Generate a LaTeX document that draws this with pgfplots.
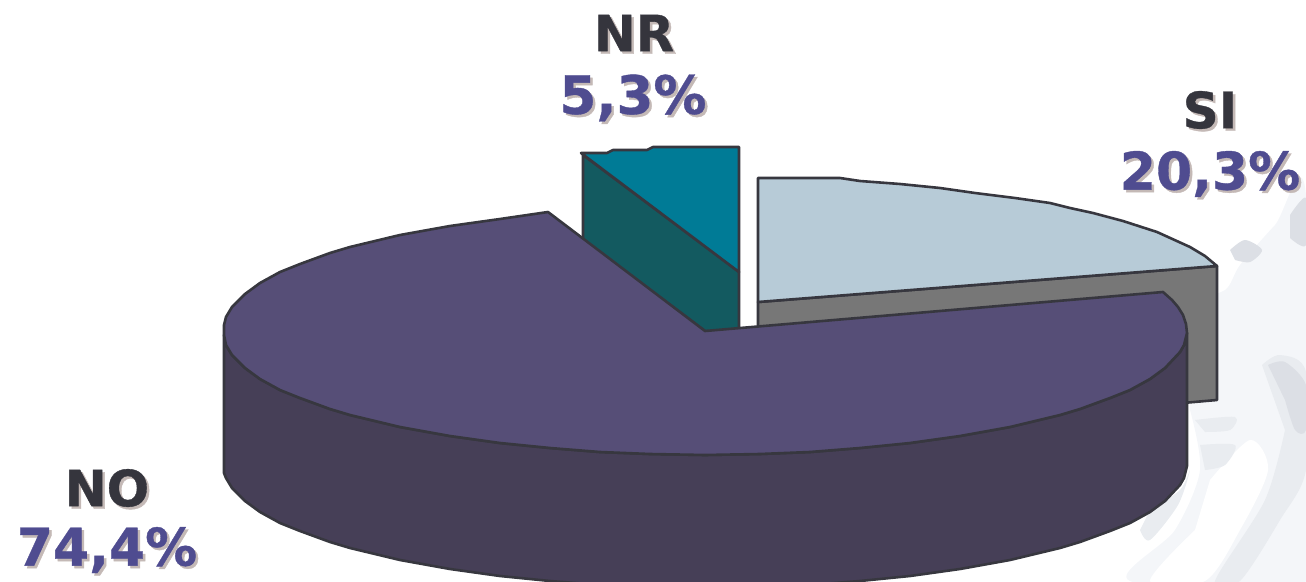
\documentclass[border=0pt]{standalone}
\usepackage{pgfplots}
\pgfplotsset{compat=1.18}
\usepackage{fontspec}
\setmainfont[BoldFeatures={FakeBold=0.7}]{DejaVu Sans}
\definecolor{notop}{HTML}{564E77}
\definecolor{noside}{HTML}{463F57}
\definecolor{sitop}{HTML}{B7CBD7}
\definecolor{siside}{HTML}{777777}
\definecolor{nrtop}{HTML}{007B96}
\definecolor{nrside}{HTML}{135A60}
\definecolor{edge}{HTML}{37373F}
\definecolor{lab}{HTML}{35353D}
\definecolor{pct}{HTML}{4F4C90}
\definecolor{shad}{HTML}{C4B9B6}
\definecolor{wm}{HTML}{F4F6F9}
\definecolor{wmm}{HTML}{E9ECF0}
\definecolor{wmd}{HTML}{DCDFE5}
\newcommand{\lbl}[5]{%
 \node[inner sep=0pt,text=shad,font=\fontsize{#5}{#5}\selectfont\bfseries] at (axis cs:#1+2.5,#2+2.5) {#3};
 \node[inner sep=0pt,text=#4,font=\fontsize{#5}{#5}\selectfont\bfseries] at (axis cs:#1,#2) {#3};}
\begin{document}
\begin{tikzpicture}
\useasboundingbox (0,0) rectangle (1306pt,581pt);
\begin{axis}[anchor=south west,at={(0,0)},width=1306pt,height=581pt,scale only axis,xmin=0,xmax=1306,ymin=0,ymax=581,y dir=reverse,axis lines=none,clip=true]
% faint background picture
\addplot[fill=wm,draw=none,smooth] coordinates {(1190,300)(1225,290)(1240,265)(1275,225)(1306,195)(1306,581)(1130,581)(1175,530)(1200,470)(1190,410)} --cycle;
\addplot[fill=white,draw=none,smooth] coordinates {(1210,480)(1250,440)(1268,470)(1240,530)(1205,581)(1150,581)(1195,530)} --cycle;
\addplot[fill=wmd,draw=none,smooth] coordinates {(1230,250)(1245,240)(1262,250)(1250,262)(1235,260)} --cycle;
\addplot[fill=wmd,draw=none,smooth] coordinates {(1290,215)(1306,198)(1306,245)(1290,238)} --cycle;
\addplot[fill=wmm,draw=none,smooth] coordinates {(1262,365)(1280,355)(1306,372)(1306,470)(1280,520)(1240,581)(1215,581)(1265,500)(1285,430)} --cycle;
\addplot[fill=wmd,draw=none,smooth] coordinates {(1268,365)(1285,362)(1306,385)(1306,430)(1295,430)(1285,400)} --cycle;
\addplot[fill=wmm,draw=none,smooth] coordinates {(1150,510)(1180,490)(1190,470)(1178,505)(1150,540)(1140,530)} --cycle;
\addplot[fill=wmm,draw=none,smooth] coordinates {(1195,420)(1235,417)(1230,430)(1205,432)} --cycle;
\addplot[fill=wmm,draw=none,smooth] coordinates {(1200,445)(1235,445)(1225,465)(1205,470)} --cycle;
% SI
\addplot[fill=siside,draw=edge,line width=2.6pt,line join=round] coordinates {(758,302)(1217,266)(1217,400)(758,440)} --cycle;
\addplot[fill=sitop,draw=edge,line width=2.6pt,line join=round] coordinates {(758,302)(758,178)(840,178)(860,181)(900,184)(940,188)(975,193)(1015,198)(1050,203)(1070,208)(1093,213)(1123,221)(1157,232)(1190,247)(1205,256)(1217,266)} --cycle;
% NR
\addplot[fill=nrside,draw=edge,line width=2.6pt,line join=round] coordinates {(583,155)(739,272)(739,335)(705,331)(583,240)} --cycle;
\addplot[fill=nrtop,draw=edge,line width=2.6pt,line join=round] coordinates {(581,153)(607,153)(613,150)(647,150)(653,147)(739,147)(739,272)} --cycle;
% NO wall
\addplot[fill=noside,draw=edge,line width=2.6pt,line join=round] coordinates {(224,335)(226,345)(232,355)(245,368)(260,379)(280,390)(300,398)(330,409)(350,415)(400,427)(450,436)(500,443)(550,448)(600,452)(650,454)(705,455)(760,454)(810,452)(860,448)(910,443)(960,436)(1010,427)(1060,415)(1080,409)(1110,398)(1130,390)(1150,379)(1165,368)(1180,352)(1184,345)(1187,333)(1187,466)(1184,478)(1180,485)(1165,501)(1150,512)(1130,523)(1110,531)(1080,542)(1060,548)(1010,560)(960,569)(910,576)(860,581)(810,585)(760,587)(705,588)(650,587)(600,585)(550,581)(500,576)(450,569)(400,560)(350,548)(330,542)(300,531)(280,523)(260,512)(245,501)(232,488)(226,478)(224,473)} --cycle;
% NO top
\addplot[fill=notop,draw=edge,line width=2.6pt,line join=round] coordinates {(705,331)(548,212)(500,219)(450,226)(400,235)(350,247)(330,253)(300,264)(280,272)(260,283)(245,294)(232,307)(226,317)(224,325)(224,335)(226,345)(232,355)(245,368)(260,379)(280,390)(300,398)(330,409)(350,415)(400,427)(450,436)(500,443)(550,448)(600,452)(650,454)(705,455)(760,454)(810,452)(860,448)(910,443)(960,436)(1010,427)(1060,415)(1080,409)(1110,398)(1130,390)(1150,379)(1165,368)(1180,352)(1184,345)(1187,333)(1186,324)(1183,315)(1178,307)(1172,300)(1163,292)} --cycle;
% labels
\lbl{634}{33}{NR}{lab}{50}
\lbl{633}{98}{5,3\%}{pct}{53}
\lbl{1210}{110}{SI}{lab}{50}
\lbl{1210}{174}{20,3\%}{pct}{52}
\lbl{107}{488}{NO}{lab}{50}
\lbl{107}{550}{74,4\%}{pct}{52}
\end{axis}
\end{tikzpicture}
\end{document}
